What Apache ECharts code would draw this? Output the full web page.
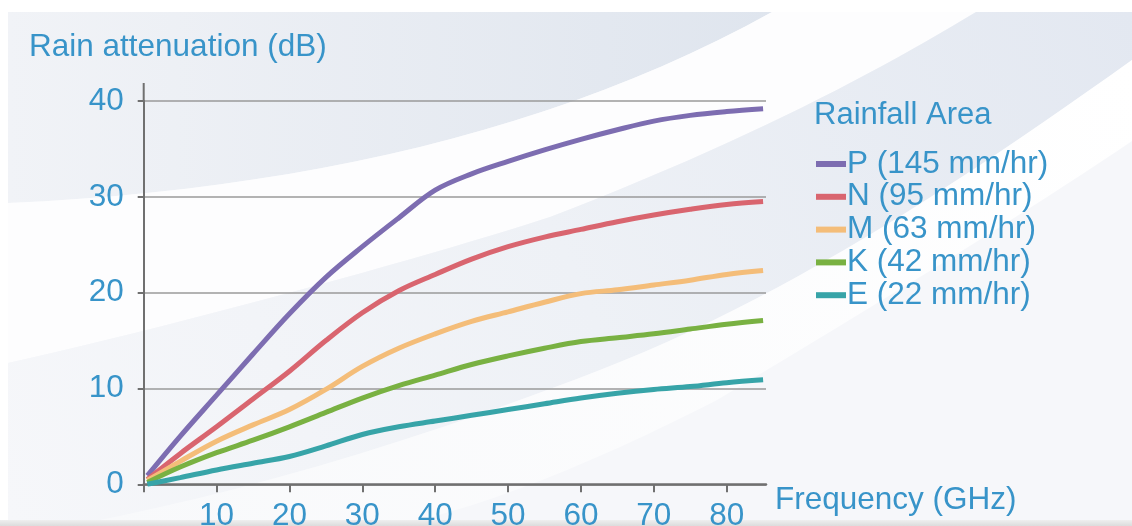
<!DOCTYPE html>
<html>
<head>
<meta charset="utf-8">
<style>
  html, body { margin: 0; padding: 0; background: #ffffff; }
  #chart {
    width: 1132px; height: 526px;
    background: linear-gradient(to bottom, #ffffff 0, #ffffff 520px, #efefef 520px, #dcdcdc 526px);
  }
</style>
<script src="https://cdn.jsdelivr.net/npm/echarts@6/dist/echarts.min.js"></script>
</head>
<body>
<div id="chart"></div>
<script>
// Frequency samples (GHz) shared by every curve
const FREQ = [0.5, 5, 10, 15, 20, 25, 30, 35, 40, 45, 50, 55, 60, 65, 70, 75, 80, 85];

// Rain attenuation (dB) per rainfall area
const P_145 = [0.9, 5.0, 9.3, 13.6, 17.8, 21.6, 24.8, 27.8, 30.7, 32.4, 33.7, 34.9, 36.0, 37.0, 37.9, 38.5, 38.9, 39.2];
const N_95  = [0.5, 3.2, 6.0, 8.9, 11.8, 15.0, 17.9, 20.2, 21.9, 23.5, 24.8, 25.8, 26.6, 27.4, 28.1, 28.7, 29.2, 29.5];
const M_63  = [0.4, 2.4, 4.5, 6.2, 7.8, 9.9, 12.3, 14.2, 15.7, 17.0, 18.0, 19.0, 19.9, 20.3, 20.8, 21.3, 21.9, 22.3];
const K_42  = [0.2, 1.8, 3.3, 4.6, 6.0, 7.5, 9.0, 10.3, 11.4, 12.5, 13.4, 14.2, 14.9, 15.3, 15.7, 16.2, 16.7, 17.1];
const E_22  = [0.0, 0.7, 1.5, 2.2, 2.9, 4.0, 5.2, 6.0, 6.6, 7.2, 7.8, 8.4, 9.0, 9.5, 9.9, 10.2, 10.6, 10.9];

const SERIES_NAMES = ['P (145 mm/hr)', 'N (95 mm/hr)', 'M (63 mm/hr)', 'K (42 mm/hr)', 'E (22 mm/hr)'];
const SERIES_VALUES = [P_145, N_95, M_63, K_42, E_22];
const SERIES_COLORS = ['#7d6db1', '#d9656f', '#f4bd79', '#79b142', '#37a4a8'];

// Axis ticks and labels
const X_TICKS = [0, 10, 20, 30, 40, 50, 60, 70, 80];
const X_LABELS = [10, 20, 30, 40, 50, 60, 70, 80];

const BLUE_TEXT = '#3894c9';
const FONT = '"Liberation Sans", Arial, sans-serif';
const FS = 31.5;

// Plot area
const GRID = { left: 143.7, top: 101, right: 1132 - 766, bottom: 526 - 484.3 };

const chart = echarts.init(document.getElementById('chart'), null, { renderer: 'canvas' });

function pairs(values) {
  return values.map((v, i) => [FREQ[i], v]);
}

const series = SERIES_NAMES.map((name, i) => ({
  name: name,
  type: 'line',
  data: pairs(SERIES_VALUES[i]),
  smooth: 0.35,
  showSymbol: false,
  symbol: 'none',
  lineStyle: { width: 5, color: SERIES_COLORS[i] },
  itemStyle: { color: SERIES_COLORS[i] },
  emphasis: { disabled: true },
  z: 3
}));

// Outline of a backdrop shape: straight points and cubic curves
// ('C' entries hold two control points and an end point).
function outline(steps) {
  const pts = [];
  let cur = null;
  steps.forEach(s => {
    if (s[0] === 'C') {
      const [, c1, c2, end] = s;
      for (let k = 1; k <= 24; k++) {
        const t = k / 24, u = 1 - t;
        pts.push([
          u * u * u * cur[0] + 3 * u * u * t * c1[0] + 3 * u * t * t * c2[0] + t * t * t * end[0],
          u * u * u * cur[1] + 3 * u * u * t * c1[1] + 3 * u * t * t * c2[1] + t * t * t * end[1]
        ]);
      }
      cur = end;
    } else {
      pts.push(s);
      cur = s;
    }
  });
  return pts;
}

function lin(x0, y0, x1, y1, stops) {
  return new echarts.graphic.LinearGradient(x0, y0, x1, y1,
    stops.map((c, i) => ({ offset: i / (stops.length - 1), color: c })));
}

// Soft panel backdrop with curved light bands (the grey foot strip comes from the page)
const backdrop = [
  { type: 'rect', z: -20, silent: true, shape: { x: 0, y: 0, width: 1132, height: 520 }, style: { fill: '#ffffff' } },
  { type: 'rect', z: -19, silent: true, shape: { x: 8, y: 12, width: 1124, height: 508 }, style: { fill: '#f6f7fa' } },
  { type: 'polygon', z: -18, silent: true,
    shape: { points: outline([[8, 12], [772, 12], ['C', [560, 130], [300, 190], [8, 203]]]) },
    style: { fill: lin(0, 0, 1, 0, ['#f1f3f7', '#dfe5ee']) } },
  { type: 'polygon', z: -18, silent: true,
    shape: { points: outline([[772, 12], [976, 12], ['C', [880, 70], [750, 140], [550, 217]],
      ['C', [450, 250], [200, 320], [8, 363]], [8, 203], ['C', [300, 190], [560, 130], [772, 12]]]) },
    style: { fill: '#fdfdfe' } },
  { type: 'polygon', z: -18, silent: true,
    shape: { points: outline([[976, 12], [1132, 12], [1132, 60], ['C', [950, 190], [780, 300], [600, 370]],
      ['C', [420, 440], [250, 490], [100, 520]], [8, 520], [8, 363],
      ['C', [200, 320], [450, 250], [550, 217]], ['C', [750, 140], [880, 70], [976, 12]]]) },
    style: { fill: lin(1, 0, 0, 1, ['#e3e8f1', '#eef1f6', '#f6f7fa']) } },
  { type: 'polygon', z: -18, silent: true,
    shape: { points: outline([[1132, 60], [1132, 141], ['C', [1000, 230], [850, 320], [717, 400]],
      ['C', [600, 460], [500, 500], [420, 520]], [100, 520],
      ['C', [250, 490], [420, 440], [600, 370]], ['C', [780, 300], [950, 190], [1132, 60]]]) },
    style: { fill: lin(1, 0, 0, 1, ['#ffffff', '#f8f9fb']) } },
  // value axis line continues a little above the top grid line
  { type: 'line', z: 1, silent: true,
    shape: { x1: GRID.left, y1: 83, x2: GRID.left, y2: GRID.top },
    style: { stroke: '#707070', lineWidth: 2 } }
];

const option = {
  animation: false,
  backgroundColor: 'transparent',
  textStyle: { fontFamily: FONT },
  title: [
    { text: 'Rain attenuation (dB)', left: 29, top: 31, padding: 0,
      textStyle: { color: BLUE_TEXT, fontSize: FS, fontWeight: 'normal', fontFamily: FONT } },
    { text: 'Rainfall Area', left: 814, top: 100, padding: 0,
      textStyle: { color: BLUE_TEXT, fontSize: 31, fontWeight: 'normal', fontFamily: FONT } }
  ],
  legend: {
    orient: 'vertical',
    left: 816,
    top: 148,
    padding: 0,
    itemGap: 0.8,
    itemWidth: 30,
    itemHeight: 6,
    icon: 'rect',
    selectedMode: false,
    data: SERIES_NAMES,
    textStyle: { color: BLUE_TEXT, fontSize: FS, fontFamily: FONT, padding: [0, 0, 0, -4] }
  },
  grid: {
    left: GRID.left, top: GRID.top, right: GRID.right, bottom: GRID.bottom,
    containLabel: false,
    outerBoundsMode: 'none'
  },
  xAxis: {
    type: 'value',
    min: 0,
    max: 85.4,
    interval: 10,
    name: 'Frequency (GHz)',
    nameLocation: 'end',
    nameGap: 9,
    nameTextStyle: { color: BLUE_TEXT, fontSize: FS, fontFamily: FONT, align: 'left', verticalAlign: 'top' },
    axisLine: { show: true, onZero: false, lineStyle: { color: '#707070', width: 2.5 } },
    axisTick: { show: true, length: 8, customValues: X_TICKS, lineStyle: { color: '#707070', width: 2 } },
    axisLabel: { customValues: X_LABELS, color: BLUE_TEXT, fontSize: FS, fontFamily: FONT, margin: 16 },
    splitLine: { show: false }
  },
  yAxis: {
    type: 'value',
    min: 0,
    max: 40,
    interval: 10,
    axisLine: { show: true, onZero: false, lineStyle: { color: '#707070', width: 2 } },
    axisTick: { show: true, length: 6, lineStyle: { color: '#707070', width: 2 } },
    axisLabel: { color: BLUE_TEXT, fontSize: FS, fontFamily: FONT, margin: 20 },
    splitLine: { show: true, lineStyle: { color: '#9a9a9a', width: 1.5 } }
  },
  graphic: { elements: backdrop },
  series: series
};

chart.setOption(option);
</script>
</body>
</html>
